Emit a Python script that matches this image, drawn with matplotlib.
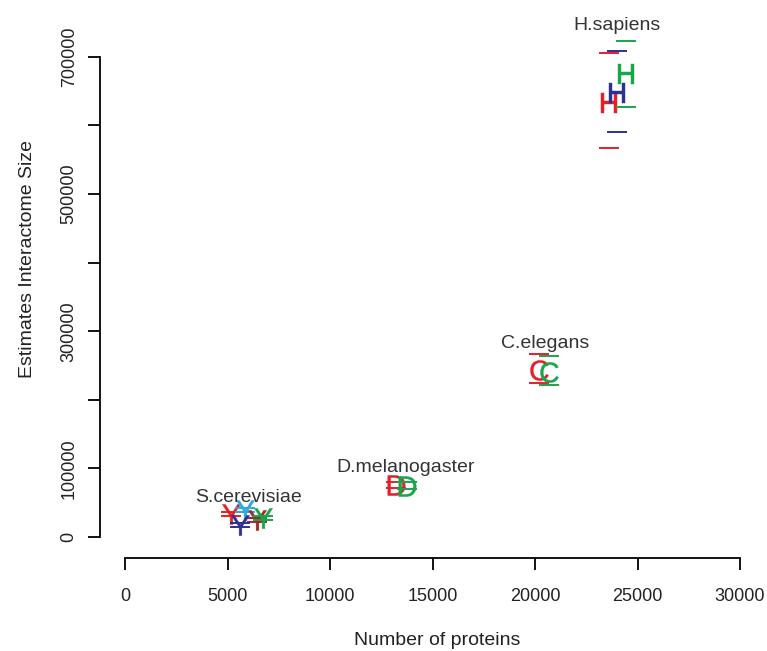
import numpy as np
import matplotlib
matplotlib.use("Agg")
import matplotlib.pyplot as plt

plt.rcParams["font.family"] = ["Liberation Sans", "DejaVu Sans"]
plt.rcParams["mathtext.fontset"] = "custom"
plt.rcParams["mathtext.sf"] = "Liberation Sans"

# ---- data ----
species = ["S.cerevisiae", "D.melanogaster", "C.elegans", "H.sapiens"]
species_letter = ["Y", "D", "C", "H"]

# one entry per coloured estimate: x, y, lower and upper bound
sc_x = [5160, 5850, 6420, 6750, 5610]
sc_y = [33100, 39400, 24800, 27300, 17500]
sc_lo = [31100, 37000, 22300, 24500, 15000]
sc_hi = [36000, 42000, 27300, 30100, 20000]
sc_col = ["red", "lightblue", "darkred", "green", "blue"]

dm_x = [13200, 13760]
dm_y = [75800, 75000]
dm_lo = [71500, 70500]
dm_hi = [80200, 79500]
dm_col = ["red", "green"]

ce_x = [20180, 20670]
ce_y = [243500, 241000]
ce_lo = [224100, 221200]
ce_hi = [266400, 264400]
ce_col = ["red", "green"]

hs_x = [23610, 24015, 24420]
hs_y = [632500, 647900, 674800]
hs_lo = [567700, 590200, 626600]
hs_hi = [706300, 708300, 723800]
hs_col = ["red", "blue", "green"]

palette = {
    "red": "#E41F28",
    "green": "#17A64A",
    "blue": "#2E3192",
    "lightblue": "#29ABE2",
    "darkred": "#A3262C",
}

fig = plt.figure(figsize=(7.67, 6.51), dpi=100)
# axes box in pixels: left 100, right 752, bottom 558, top 15
ax = fig.add_axes([100 / 767, 93 / 651, 652.3 / 767, 543 / 651])

groups = [
    (sc_x, sc_y, sc_lo, sc_hi, sc_col),
    (dm_x, dm_y, dm_lo, dm_hi, dm_col),
    (ce_x, ce_y, ce_lo, ce_hi, ce_col),
    (hs_x, hs_y, hs_lo, hs_hi, hs_col),
]

for (xs, ys, los, his, cols), letter in zip(groups, species_letter):
    for x, y, lo, hi, c in zip(xs, ys, los, his, cols):
        col = palette[c]
        ax.errorbar(x, y, yerr=[[y - lo], [hi - y]], fmt="none", ecolor=col,
                    elinewidth=0, capsize=7.5, capthick=1.4)
        ax.plot(x, y, linestyle="none", marker=r"$\mathsf{%s}$" % letter,
                markersize=14.5, color=col, markeredgewidth=0.3)

# species labels (baseline positions)
lab_kw = dict(ha="center", va="baseline", fontsize=14, color="#333333")
ax.text(6000, 51500, "S.cerevisiae", **lab_kw)
ax.text(13700, 95200, "D.melanogaster", **lab_kw)
ax.text(20510, 275200, "C.elegans", **lab_kw)
ax.text(24000, 739400, "H.sapiens", **lab_kw)

ax.set_xlim(-1220, 30600)
ax.set_ylim(-30600, 761000)

ax.spines["top"].set_visible(False)
ax.spines["right"].set_visible(False)
ax.spines["bottom"].set_bounds(0, 30000)
ax.spines["left"].set_bounds(0, 700000)
for s in ["bottom", "left"]:
    ax.spines[s].set_linewidth(1.3)

xt = np.arange(0, 30001, 5000)
ax.set_xticks(xt)
ax.set_xticklabels([str(v) for v in xt])
yt = np.arange(0, 700001, 100000)
ax.set_yticks(yt)
ax.set_yticklabels(["0", "100000", "", "300000", "", "500000", "", "700000"],
                   rotation=90, va="center")
ax.tick_params(axis="both", length=8.6, width=1.3, labelsize=13, color="black",
               labelcolor="#222222")
ax.tick_params(axis="x", pad=13)
ax.tick_params(axis="y", pad=7.5)

ax.set_xlabel("Number of proteins", fontsize=14, color="#222222")
ax.set_ylabel("Estimates Interactome Size", fontsize=14, color="#222222")
ax.xaxis.set_label_coords((437 - 100) / 652.3, (558 - 631.7) / 543)
ax.yaxis.set_label_coords((35.8 - 100) / 652.3, (558 - 259) / 543)

fig.savefig("out.png", dpi=100)
